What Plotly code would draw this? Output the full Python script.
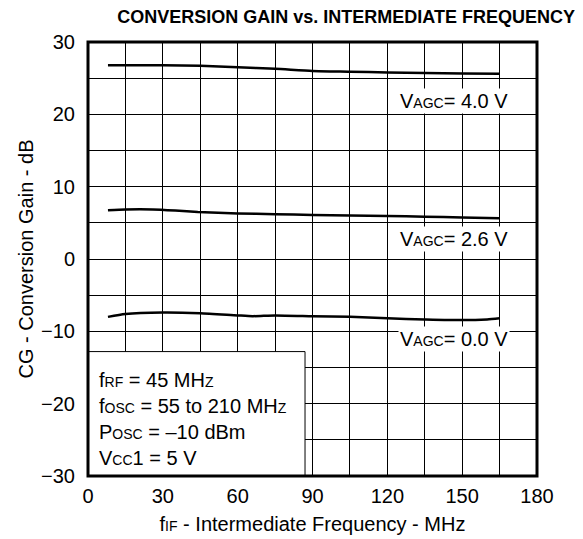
import plotly.graph_objects as go

title = "CONVERSION GAIN vs. INTERMEDIATE FREQUENCY"

x_agc40 = [8, 20, 30, 45, 60, 75, 90, 105, 120, 135, 150, 165]
y_agc40 = [26.8, 26.8, 26.8, 26.7, 26.5, 26.3, 26.0, 25.9, 25.8, 25.7, 25.65, 25.6]

x_agc26 = [8, 15, 26, 35, 44, 60, 75, 90, 105, 120, 135, 150, 165]
y_agc26 = [6.75, 6.85, 6.85, 6.7, 6.5, 6.3, 6.2, 6.1, 6.0, 5.95, 5.85, 5.75, 5.65]

x_agc00 = [8, 15, 30, 45, 60, 66, 75, 90, 105, 120, 135, 150, 160, 165]
y_agc00 = [-8.0, -7.6, -7.4, -7.5, -7.8, -7.9, -7.8, -7.9, -8.0, -8.2, -8.35, -8.45, -8.35, -8.2]

x_ticks = [0, 30, 60, 90, 120, 150, 180]
y_ticks = [-30, -20, -10, 0, 10, 20, 30]
y_ticktext = ["\u221230", "\u221220", "\u221210", "0", "10", "20", "30"]

FONT = "Liberation Sans, Arial, sans-serif"
SUB = "<span style='font-size:14px'>%s</span>"

fig = go.Figure()
for xs, ys in [(x_agc40, y_agc40), (x_agc26, y_agc26), (x_agc00, y_agc00)]:
    fig.add_trace(go.Scatter(x=xs, y=ys, mode="lines",
                             line=dict(color="black", width=2.5, shape="spline", smoothing=0.6),
                             showlegend=False, hoverinfo="skip"))

# legend box
fig.add_shape(type="rect", x0=-1, x1=87, y0=-31, y1=-12.8, xref="x", yref="y",
              line=dict(color="black", width=1), fillcolor="white", layer="above")
cond = ("f" + SUB % "RF" + " = 45 MH" + SUB % "Z" + "<br>"
        "f" + SUB % "OSC" + " = 55 to 210 MH" + SUB % "Z" + "<br>"
        "P" + SUB % "OSC" + " = \u201310 dBm<br>"
        "V" + SUB % "CC" + "1 = 5 V")
fig.add_annotation(x=3.8, y=-14.9, xref="x", yref="y", text=cond, showarrow=False,
                   xanchor="left", yanchor="top", align="left",
                   font=dict(family=FONT, size=20, color="black"))

# curve labels
for yv, txt in [(21.8, "4.0 V"), (2.7, "2.6 V"), (-11.1, "0.0 V")]:
    fig.add_annotation(x=169, y=yv, xref="x", yref="y",
                       text="V" + SUB % "AGC" + "= " + txt, showarrow=False,
                       xanchor="right", yanchor="middle", bgcolor="white",
                       borderpad=1, font=dict(family=FONT, size=20, color="black"))

# frame
fig.add_shape(type="rect", x0=0, x1=1, y0=0, y1=1, xref="paper", yref="paper",
              line=dict(color="black", width=3), layer="above")

# page body has an 8px default margin, so the figure is 8px smaller
fig.update_layout(
    width=575, height=531,
    margin=dict(l=80, r=46, t=34, b=63),
    paper_bgcolor="white", plot_bgcolor="white",
    font=dict(family=FONT, size=20, color="black"),
    title=dict(text="<b>" + title + "</b>", x=0.588, xanchor="center", y=0.995, yanchor="top",
               font=dict(family=FONT, size=18, color="black")),
    xaxis=dict(range=[0, 180], tickvals=x_ticks, showgrid=True, gridcolor="black", gridwidth=1,
               minor=dict(dtick=15, tick0=0, showgrid=True, gridcolor="black", gridwidth=1),
               zeroline=False, ticks="", tickfont=dict(size=20), automargin=False,
               ticklabelstandoff=6,
               title=dict(text="f" + SUB % "IF" + " - Intermediate Frequency - MHz",
                          font=dict(size=20), standoff=10)),
    yaxis=dict(range=[-30, 30], tickvals=y_ticks, ticktext=y_ticktext, showgrid=True,
               gridcolor="black", gridwidth=1,
               minor=dict(dtick=5, tick0=0, showgrid=True, gridcolor="black", gridwidth=1),
               zeroline=False, ticks="", tickfont=dict(size=20), automargin=False,
               ticklabelstandoff=12,
               title=dict(text="CG - Conversion Gain - dB", font=dict(size=20), standoff=2)),
)

fig.write_html("out.html")
